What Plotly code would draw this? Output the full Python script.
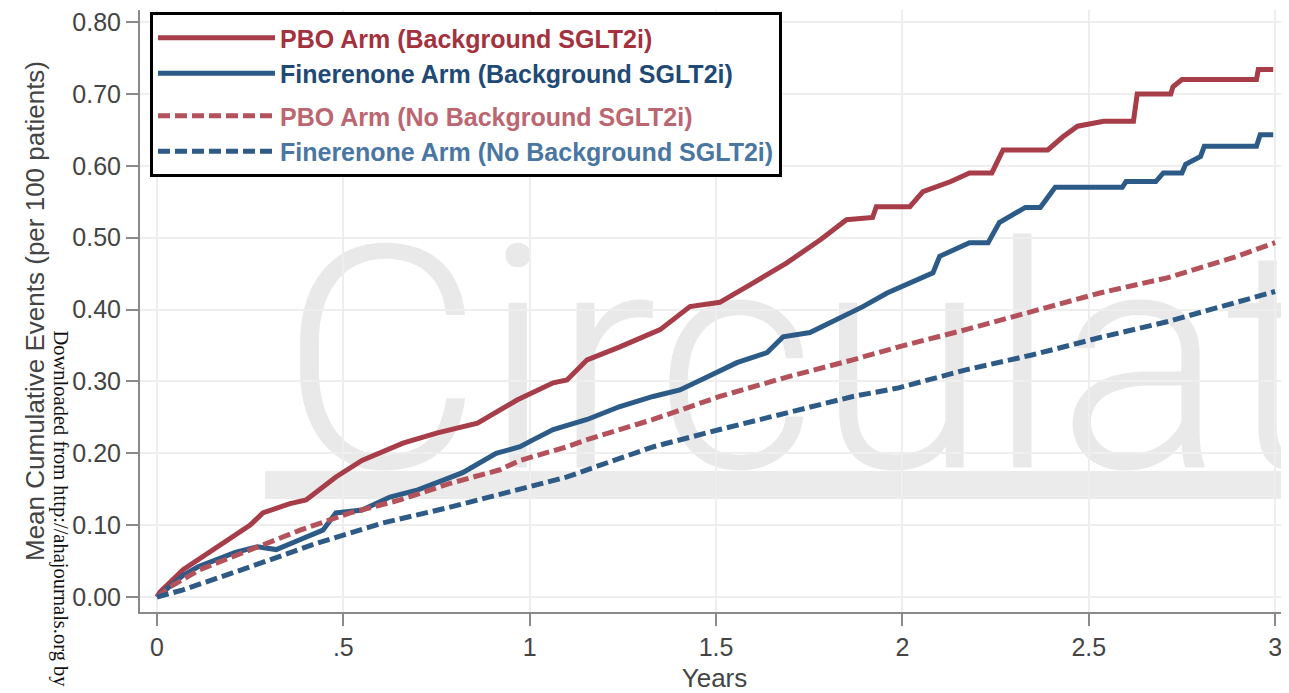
import plotly.graph_objects as go

# ---------------- data ----------------
pbo_bg_x = [0, 0.008, 0.07, 0.16, 0.25, 0.284, 0.357, 0.40, 0.48, 0.55, 0.66, 0.75, 0.86, 0.966,
            1.063, 1.10, 1.154, 1.242, 1.35, 1.43, 1.51, 1.60, 1.69, 1.78, 1.85, 1.92, 1.93, 2.02,
            2.055, 2.13, 2.18, 2.24, 2.27, 2.39, 2.43, 2.47, 2.54, 2.62, 2.63, 2.72, 2.726, 2.75,
            2.95, 2.955, 2.995]
pbo_bg_y = [0, 0.007, 0.038, 0.07, 0.10, 0.117, 0.13, 0.135, 0.167, 0.19, 0.214, 0.228, 0.242, 0.274,
            0.298, 0.302, 0.33, 0.348, 0.372, 0.404, 0.41, 0.437, 0.465, 0.497, 0.525, 0.528, 0.543, 0.543,
            0.564, 0.578, 0.59, 0.59, 0.622, 0.622, 0.64, 0.655, 0.662, 0.662, 0.70, 0.70, 0.71, 0.72,
            0.72, 0.734, 0.734]

fin_bg_x = [0, 0.03, 0.07, 0.11, 0.16, 0.21, 0.27, 0.32, 0.38, 0.445, 0.48, 0.55, 0.625, 0.70, 0.77,
            0.82, 0.91, 0.974, 1.01, 1.063, 1.154, 1.242, 1.331, 1.403, 1.476, 1.556, 1.637, 1.68,
            1.752, 1.825, 1.894, 1.959, 2.047, 2.082, 2.10, 2.18, 2.23, 2.26, 2.33, 2.37, 2.41, 2.59,
            2.60, 2.68, 2.70, 2.75, 2.76, 2.80, 2.81, 2.95, 2.96, 2.995]
fin_bg_y = [0, 0.012, 0.03, 0.042, 0.052, 0.062, 0.07, 0.066, 0.079, 0.093, 0.117, 0.121, 0.139, 0.149, 0.163,
            0.173, 0.2, 0.209, 0.219, 0.233, 0.247, 0.265, 0.279, 0.288, 0.306, 0.326, 0.34, 0.362,
            0.368, 0.386, 0.404, 0.423, 0.442, 0.451, 0.474, 0.493, 0.493, 0.521, 0.542, 0.542, 0.57, 0.57,
            0.578, 0.578, 0.59, 0.59, 0.602, 0.613, 0.627, 0.627, 0.643, 0.643]

pbo_nobg_x = [0, 0.035, 0.115, 0.25, 0.384, 0.518, 0.652, 0.786, 0.92, 0.974, 1.10, 1.154, 1.331, 1.51,
              1.69, 1.867, 1.99, 2.17, 2.35, 2.53, 2.71, 2.887, 3.0]
pbo_nobg_y = [0, 0.014, 0.038, 0.065, 0.093, 0.117, 0.135, 0.158, 0.177, 0.19, 0.209, 0.219, 0.247, 0.279,
              0.306, 0.33, 0.348, 0.372, 0.397, 0.423, 0.444, 0.472, 0.493]

fin_nobg_x = [0, 0.07, 0.25, 0.43, 0.606, 0.786, 0.966, 1.10, 1.154, 1.331, 1.51, 1.69, 1.867, 1.99,
              2.17, 2.35, 2.53, 2.71, 2.887, 3.0]
fin_nobg_y = [0, 0.01, 0.042, 0.075, 0.103, 0.125, 0.149, 0.167, 0.177, 0.209, 0.233, 0.256, 0.279, 0.291,
              0.316, 0.337, 0.361, 0.383, 0.409, 0.425]

series_names = ["PBO Arm (Background SGLT2i)", "Finerenone Arm (Background SGLT2i)",
                "PBO Arm (No Background SGLT2i)", "Finerenone Arm (No Background SGLT2i)"]
x_tickvals = [0, 0.5, 1, 1.5, 2, 2.5, 3]
x_ticktext = ["0", ".5", "1", "1.5", "2", "2.5", "3"]
y_tickvals = [0, 0.1, 0.2, 0.3, 0.4, 0.5, 0.6, 0.7, 0.8]

# ---------------- layout geometry ----------------
OFF = 8                      # page body margin of the browser
W, H = 1289 - OFF, 693 - OFF
ML, MR, MT, MB = 132, 0, 2, 81
PW, PH = W - ML - MR, H - MT - MB
PX_PER_YEAR = 372.7
PX_PER_UNIT = 718.75


def px_x(p):  # page pixel -> paper x
    return (p - OFF - ML) / PW


def px_y(p):  # page pixel -> paper y
    return (H - MB - (p - OFF)) / PH


line_colors = ["#a63d48", "#2d5b88", "#b4525c", "#2e5a86"]
text_colors = ["#a3323e", "#1f4a75", "#bb6670", "#4a76a2"]
dashes = ["solid", "solid", "12px,5px", "12px,5px"]
groups = ["bg", "bg", "nobg", "nobg"]

fig = go.Figure()
xs = [pbo_bg_x, fin_bg_x, pbo_nobg_x, fin_nobg_x]
ys = [pbo_bg_y, fin_bg_y, pbo_nobg_y, fin_nobg_y]
for i in range(4):
    fig.add_trace(go.Scatter(
        x=xs[i], y=ys[i], mode="lines",
        line=dict(color=line_colors[i], width=5, dash=dashes[i]),
        name=f"<span style='color:{text_colors[i]}'>{series_names[i]}</span>",
        legendgroup=groups[i],
    ))

# watermark (journal logo text + band), drawn below the data
fig.add_shape(type="rect", xref="paper", yref="paper",
              x0=px_x(265), x1=px_x(1300), y0=px_y(499), y1=px_y(471),
              fillcolor="#ebebeb", line=dict(width=0), layer="below")
fig.add_shape(type="rect", xref="paper", yref="paper",
              x0=px_x(274), x1=px_x(1700), y0=px_y(457), y1=px_y(219),
              fillcolor="rgba(0,0,0,0)", line=dict(width=0), layer="below",
              label=dict(text="Circulation", textposition="middle left",
                         font=dict(family="Roboto", size=312, color="#e9e9e9", weight=300)))

fig.add_annotation(text="Downloaded from http://ahajournals.org by",
                   xref="paper", yref="paper", x=px_x(60), y=px_y(328),
                   xanchor="center", yanchor="top", textangle=90, showarrow=False,
                   font=dict(family="Liberation Serif", size=20.5, color="#111111"))

tick_font = dict(family="Liberation Sans, Arial", size=25, color="#444444")
title_font = dict(family="Liberation Sans, Arial", size=26, color="#444444")

fig.update_layout(
    width=W, height=H,
    margin=dict(l=ML, r=MR, t=MT, b=MB),
    paper_bgcolor="white", plot_bgcolor="white",
    font=dict(family="Liberation Sans, Arial", size=24, color="#444444"),
    showlegend=True,
    legend=dict(
        x=px_x(150), y=px_y(12), xanchor="left", yanchor="top",
        bgcolor="white", bordercolor="black", borderwidth=3,
        font=dict(family="Liberation Sans, Arial", size=25, weight="bold"),
        itemwidth=117, tracegroupgap=7, traceorder="grouped",
    ),
    xaxis=dict(
        range=[-17 / PX_PER_YEAR, (PW - 17) / PX_PER_YEAR],
        tickvals=x_tickvals, ticktext=x_ticktext, tickfont=tick_font,
        showline=True, linecolor="#8a8a8a", linewidth=2,
        ticks="outside", ticklen=12, tickwidth=2, tickcolor="#8a8a8a",
        showgrid=True, gridcolor="#eeeeee", gridwidth=2, zeroline=False,
        ticklabeloverflow="allow",
        title=dict(text="Years", font=title_font, standoff=12),
    ),
    yaxis=dict(
        range=[-15 / PX_PER_UNIT, (597 - OFF - MT) / PX_PER_UNIT],
        tickvals=y_tickvals, tickformat=".2f", tickfont=tick_font,
        showline=True, linecolor="#8a8a8a", linewidth=2,
        ticks="outside", ticklen=12, tickwidth=2, tickcolor="#8a8a8a",
        showgrid=True, gridcolor="#eeeeee", gridwidth=2, zeroline=False,
        ticklabeloverflow="allow",
        title=dict(text="Mean Cumulative Events (per 100 patients)", font=title_font, standoff=20),
    ),
)

fig.write_html("out.html")
